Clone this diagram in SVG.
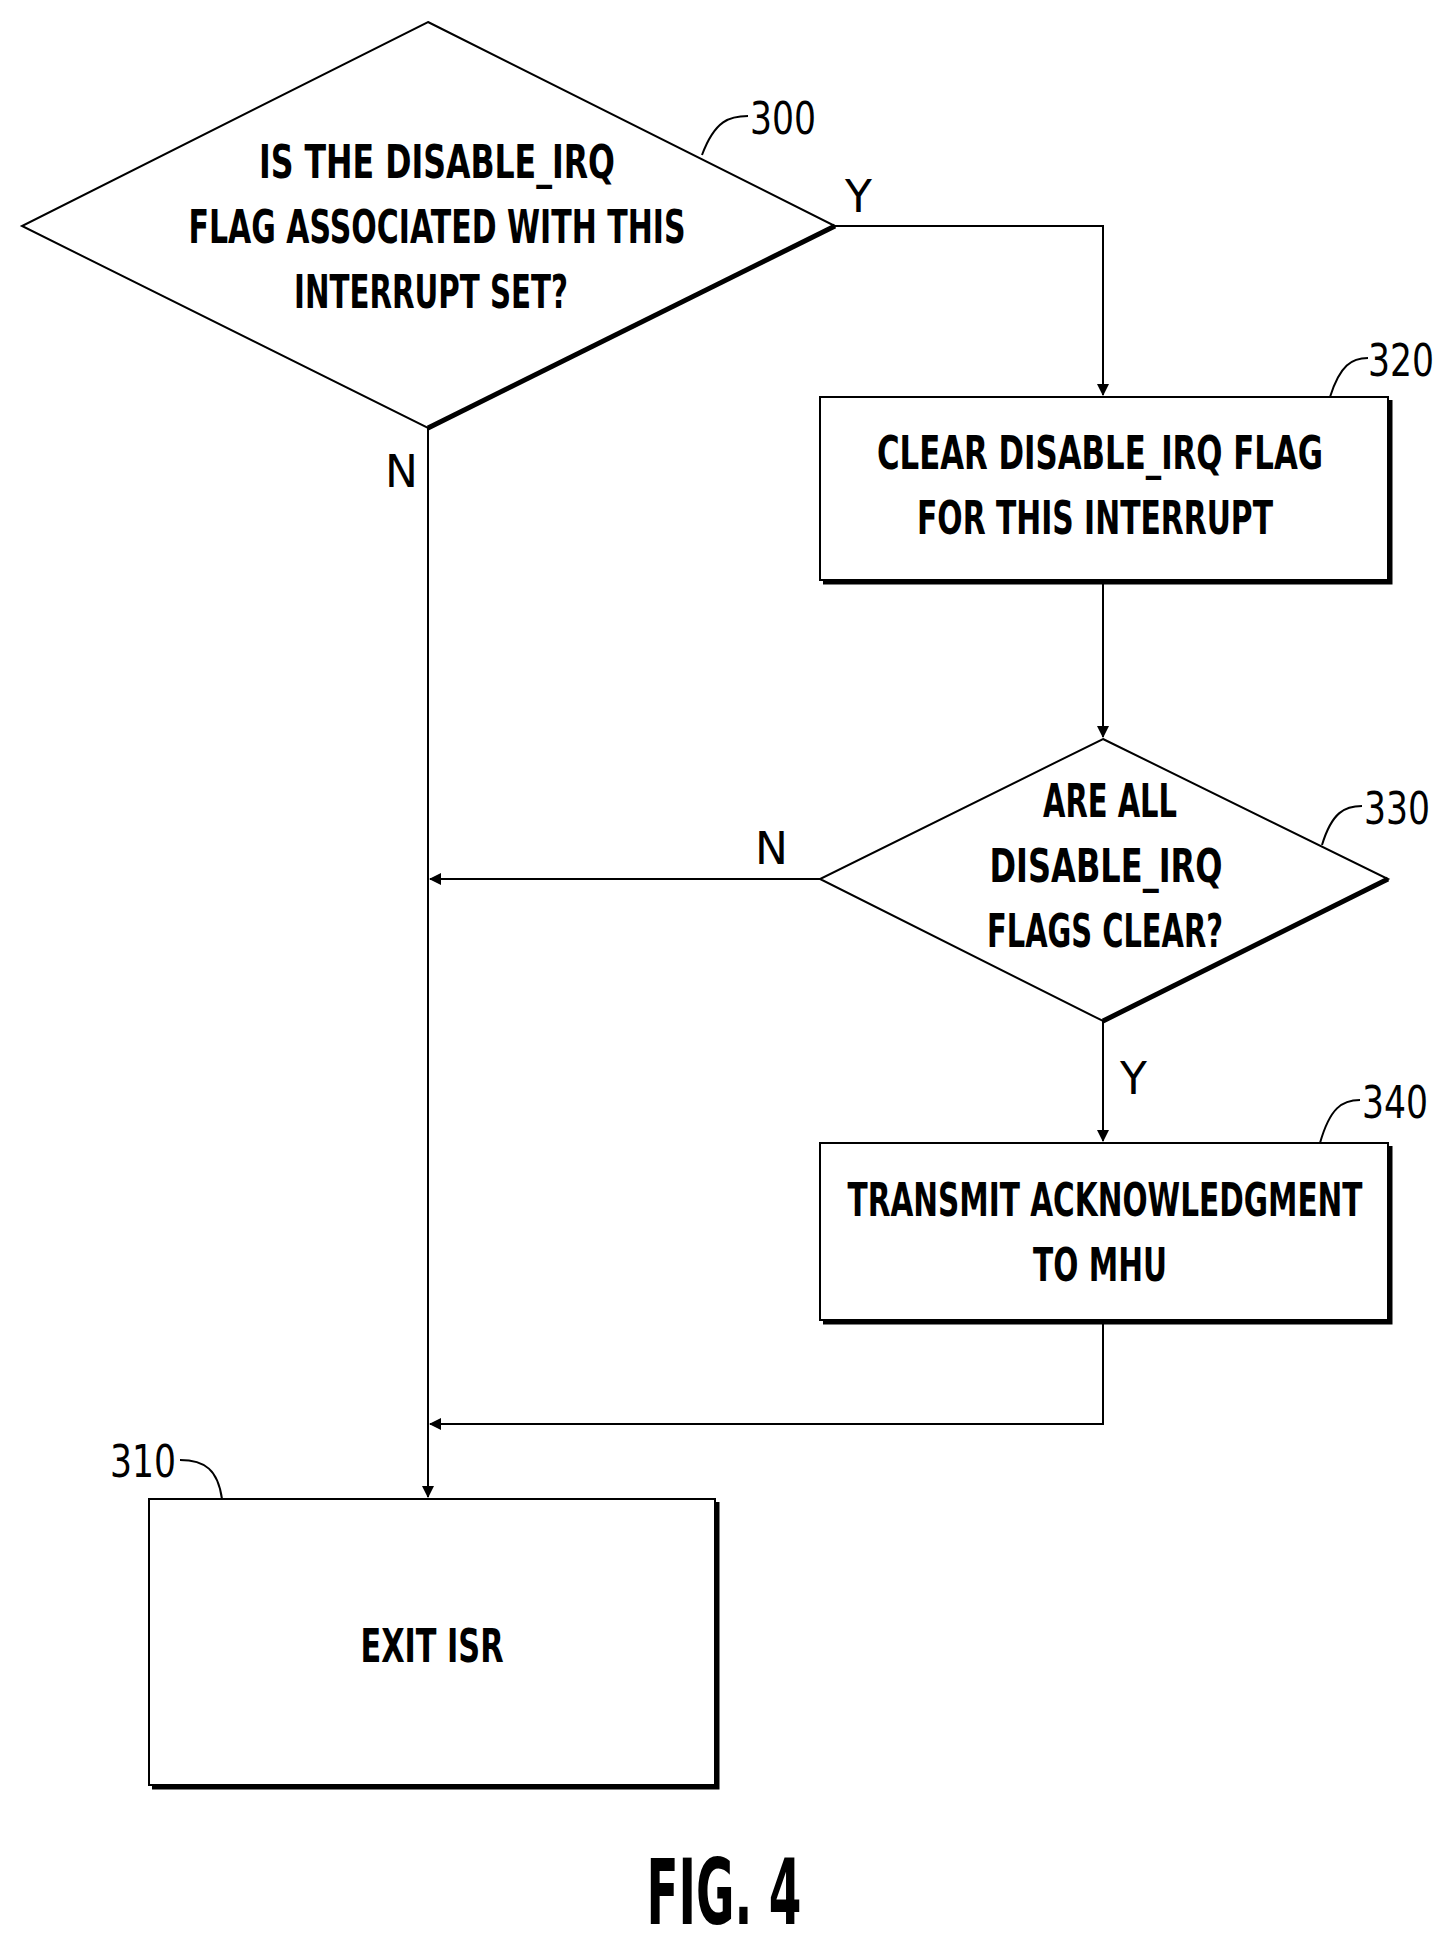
<svg xmlns="http://www.w3.org/2000/svg" width="1448" height="1942" viewBox="0 0 1448 1942">
<style>
.s{fill:none;stroke:#000;stroke-width:2}
.k{fill:none;stroke:#000;stroke-width:5}
.t{font-family:"DejaVu Sans",sans-serif;font-weight:bold;font-size:46px;text-anchor:middle}
.n{font-family:"DejaVu Sans",sans-serif;font-size:44px}
</style>
<defs><marker id="a" markerWidth="12" markerHeight="12" refX="11" refY="6" orient="auto" markerUnits="userSpaceOnUse"><path d="M0,0 L12,6 L0,12 Z"/></marker></defs>
<rect width="1448" height="1942" fill="#fff"/>
<g id="n300">
<path class="s" d="M428,22 L835,226 L428,428 L22,226 Z" fill="#fff"/>
<path class="k" d="M835,226 L428,428"/>
<text class="t" x="437" y="178" textLength="356" lengthAdjust="spacingAndGlyphs">IS THE DISABLE_IRQ</text>
<text class="t" x="437" y="243" textLength="497" lengthAdjust="spacingAndGlyphs">FLAG ASSOCIATED WITH THIS</text>
<text class="t" x="431" y="308" textLength="274" lengthAdjust="spacingAndGlyphs">INTERRUPT SET?</text>
<path class="s" d="M702,155 C715,120 730,116 748,116"/>
<text class="n" x="750" y="134" textLength="66" lengthAdjust="spacingAndGlyphs">300</text>
</g>
<g id="n320">
<rect class="s" x="820" y="397" width="568" height="183" fill="#fff"/>
<path class="k" d="M1390,400 L1390,582 L823,582"/>
<text class="t" x="1100" y="469" textLength="446" lengthAdjust="spacingAndGlyphs">CLEAR DISABLE_IRQ FLAG</text>
<text class="t" x="1095" y="534" textLength="356" lengthAdjust="spacingAndGlyphs">FOR THIS INTERRUPT</text>
<path class="s" d="M1330,397 C1340,365 1352,358 1368,358"/>
<text class="n" x="1368" y="376" textLength="66" lengthAdjust="spacingAndGlyphs">320</text>
</g>
<g id="n330">
<path class="s" d="M1103,739 L1388,879 L1103,1021 L820,879 Z" fill="#fff"/>
<path class="k" d="M1388,879 L1103,1021"/>
<text class="t" x="1110" y="817" textLength="134" lengthAdjust="spacingAndGlyphs">ARE ALL</text>
<text class="t" x="1106" y="882" textLength="233" lengthAdjust="spacingAndGlyphs">DISABLE_IRQ</text>
<text class="t" x="1105" y="947" textLength="236" lengthAdjust="spacingAndGlyphs">FLAGS CLEAR?</text>
<path class="s" d="M1322,845 C1332,812 1345,806 1362,806"/>
<text class="n" x="1364" y="824" textLength="66" lengthAdjust="spacingAndGlyphs">330</text>
</g>
<g id="n340">
<rect class="s" x="820" y="1143" width="568" height="177" fill="#fff"/>
<path class="k" d="M1390,1146 L1390,1322 L823,1322"/>
<text class="t" x="1105" y="1216" textLength="515" lengthAdjust="spacingAndGlyphs">TRANSMIT ACKNOWLEDGMENT</text>
<text class="t" x="1100" y="1281" textLength="134" lengthAdjust="spacingAndGlyphs">TO MHU</text>
<path class="s" d="M1320,1143 C1330,1108 1342,1100 1360,1100"/>
<text class="n" x="1362" y="1118" textLength="66" lengthAdjust="spacingAndGlyphs">340</text>
</g>
<g id="n310">
<rect class="s" x="149" y="1499" width="566" height="286" fill="#fff"/>
<path class="k" d="M717,1502 L717,1787 L152,1787"/>
<text class="t" x="432" y="1662" textLength="143" lengthAdjust="spacingAndGlyphs">EXIT ISR</text>
<path class="s" d="M222,1499 C218,1470 205,1460 180,1460"/>
<text class="n" x="110" y="1477" textLength="66" lengthAdjust="spacingAndGlyphs">310</text>
</g>
<g id="connectors">
<path class="s" d="M835,226 L1103,226 L1103,395" marker-end="url(#a)"/>
<path class="s" d="M428,428 L428,1497" marker-end="url(#a)"/>
<path class="s" d="M1103,580 L1103,737" marker-end="url(#a)"/>
<path class="s" d="M820,879 L430,879" marker-end="url(#a)"/>
<path class="s" d="M1103,1021 L1103,1141" marker-end="url(#a)"/>
<path class="s" d="M1103,1320 L1103,1424 L430,1424" marker-end="url(#a)"/>
<text class="n" x="845" y="212">Y</text>
<text class="n" x="385" y="487">N</text>
<text class="n" x="755" y="864">N</text>
<text class="n" x="1120" y="1094">Y</text>
</g>
<text x="724" y="1924" textLength="155" lengthAdjust="spacingAndGlyphs" style="font-family:'DejaVu Sans',sans-serif;font-weight:bold;font-size:90px;text-anchor:middle">FIG. 4</text>
</svg>
